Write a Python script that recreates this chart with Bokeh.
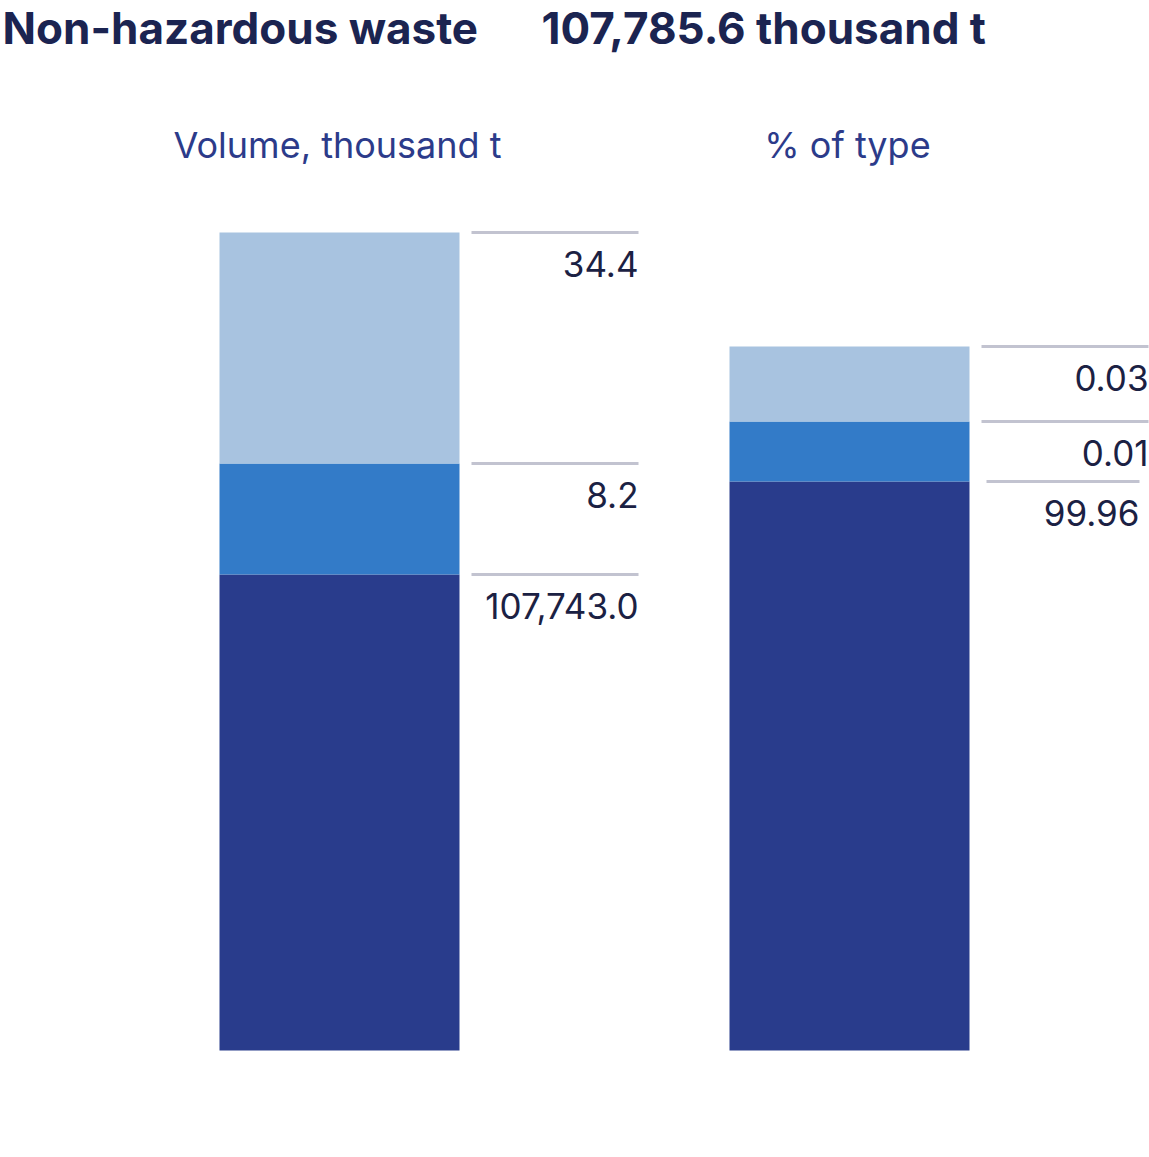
from bokeh.plotting import figure
from bokeh.models import Range1d, ColumnDataSource
from bokeh.core.properties import value
from bokeh.embed import file_html
from bokeh.resources import INLINE

# ---- data ----
title_left = "Non-hazardous waste"
title_right = "107,785.6 thousand t"
panel_titles = ["Volume, thousand t", "% of type"]
segment_names = ["Processed", "Recycled", "Other"]  # bottom -> top
volume_labels = ["107,743.0", "8.2", "34.4"]
share_labels = ["99.96", "0.01", "0.03"]
# stylised (non-proportional) segment heights as drawn in the infographic, bottom -> top
volume_display = [476, 111, 231]
share_display = [569, 60, 75]

colors = ["#293c8c", "#337bc8", "#a8c3e0"]
line_color = "#c2c3d0"
label_color = "#1b2143"
title_color = "#1b2451"
sub_color = "#2c3b8a"

W, H = 1149, 1149
p = figure(width=W, height=H, output_backend="svg", toolbar_location=None,
           x_range=Range1d(0, W), y_range=Range1d(1050 - H, 1050),
           min_border=0, outline_line_color=None)
p.axis.visible = False
p.grid.visible = False
p.background_fill_color = "white"
p.border_fill_color = "white"

bar_centers = [339, 849]
bar_w = 240
# per-panel leader line insets (start, end) for the bottom segment
bottom_line_inset = [(0, 0), (5, 9)]
for ci, (disp, labels) in enumerate([(volume_display, volume_labels), (share_display, share_labels)]):
    bottoms, tops = [], []
    acc = 0
    for h in disp:
        bottoms.append(acc)
        acc += h
        tops.append(acc)
    src = ColumnDataSource(dict(x=[bar_centers[ci]] * 3, bottom=bottoms, top=tops, color=colors))
    p.vbar(x="x", width=bar_w, bottom="bottom", top="top", fill_color="color",
           line_color=None, source=src)
    xr = bar_centers[ci] + bar_w / 2
    x0 = [xr + 12] * 3
    x1 = [xr + 179] * 3
    x0[0] += bottom_line_inset[ci][0]
    x1[0] -= bottom_line_inset[ci][1]
    p.segment(x0=x0, x1=x1, y0=tops, y1=tops, line_color=line_color, line_width=3)
    p.text(x=x1, y=[t - 31 for t in tops], text=labels,
           text_font=value("Inter"), text_font_size="35px", text_color=label_color,
           text_align="right", text_baseline="alphabetic")
    p.text(x=[bar_centers[ci] - 2], y=[1050 - 144], text=[panel_titles[ci]],
           text_font=value("Inter"), text_font_size="36px", text_color=sub_color,
           text_align="center", text_baseline="alphabetic")

p.text(x=[2], y=[1050 - 27], text=[title_left], text_font=value("Inter"),
       text_font_style="bold", text_font_size="44px", text_color=title_color,
       text_align="left", text_baseline="alphabetic")
p.text(x=[541], y=[1050 - 27], text=[title_right], text_font=value("Inter"),
       text_font_style="bold", text_font_size="44px", text_color=title_color,
       text_align="left", text_baseline="alphabetic")

open("out.html", "w").write(file_html(p, INLINE))
